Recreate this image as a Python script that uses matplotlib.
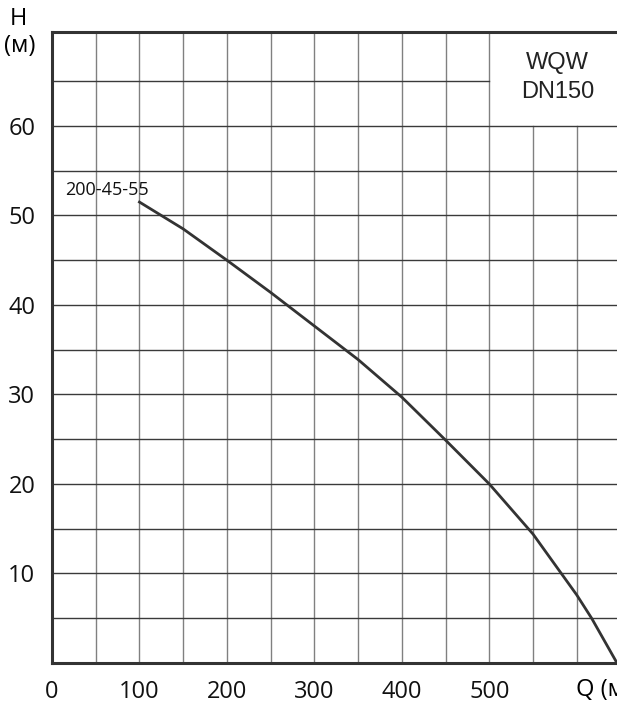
import matplotlib.pyplot as plt

q = [100, 150, 200, 250, 300, 350, 400, 450, 500, 550, 600, 617, 646]
h = [51.5, 48.5, 45.0, 41.4, 37.65, 33.9, 29.7, 24.9, 20.0, 14.4, 7.6, 5.0, 0.0]
x_ticks = [0, 100, 200, 300, 400, 500]
y_ticks = [10, 20, 30, 40, 50, 60]
curve_label = "200-45-55"
model = "WQW\nDN150"

plt.rcParams['font.family'] = ['Open Sans', 'DejaVu Sans']

fig = plt.figure(figsize=(6.17, 7.08), dpi=100)
ax = fig.add_axes([52 / 617, 45 / 708, 565 / 617, 631 / 708])
ax.set_xlim(0, 646)
ax.set_ylim(0, 70.5)

# grid: light verticals, dark horizontals, blank box behind the model name
for gx in range(50, 650, 50):
    top = 60 if gx > 500 else 70.5
    ax.plot([gx, gx], [0, top], color='#808080', lw=1.0, zorder=1)
for gy in range(5, 70, 5):
    right = 500 if gy > 60 else 646
    ax.plot([0, right], [gy, gy], color='#3a3a3a', lw=1.0, zorder=1)

ax.plot(q, h, color='#333333', lw=2.0, zorder=3, solid_joinstyle='round')
ax.text(15, 51.8, curve_label, fontsize=13, ha='left', va='bottom',
        color='#111111', zorder=4)
ax.text(578, 65.4, model, fontsize=17, ha='center', va='center',
        color='#222222', linespacing=1.4, family='Liberation Sans')

for s in ['left', 'bottom', 'top']:
    ax.spines[s].set_color('#333333')
    ax.spines[s].set_linewidth(2.2)
ax.spines['right'].set_visible(False)

ax.set_xticks(x_ticks)
ax.set_yticks(y_ticks)
ax.tick_params(length=0, labelsize=17, colors='#111111')
ax.tick_params(axis='x', pad=12)
ax.tick_params(axis='y', pad=12)

fig.text(18 / 617, 1 - 19 / 708, "H", fontsize=17, ha='center', va='center')
fig.text(20 / 617, 1 - 46 / 708, "(м)", fontsize=17, ha='center', va='center')
fig.text(576 / 617, 1 - 690 / 708, "Q (м³/ч)", fontsize=17, ha='left', va='center')

fig.savefig('out.png', dpi=100)
